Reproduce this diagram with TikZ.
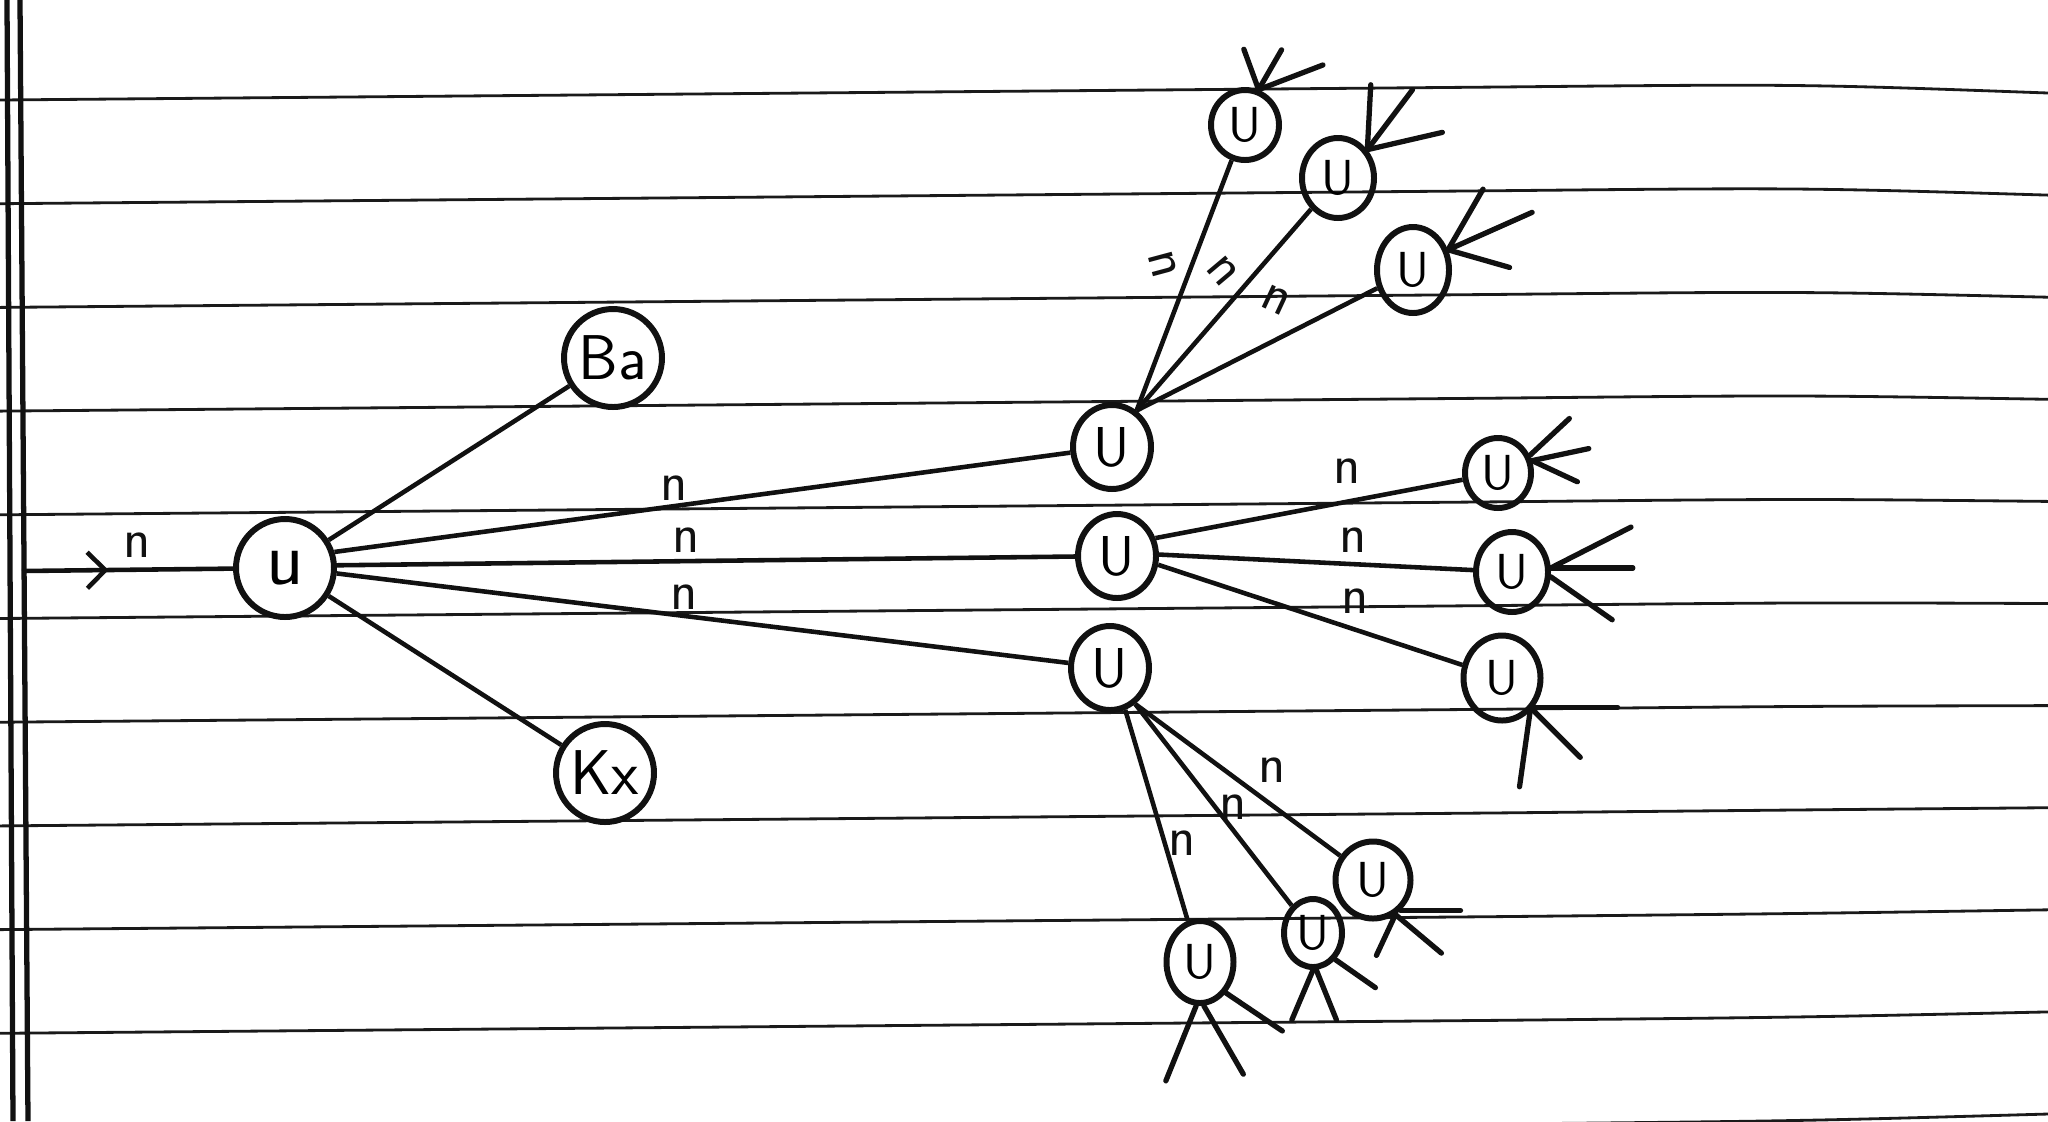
\documentclass[tikz,border=0pt]{standalone}
\usepackage{fontspec}
\usetikzlibrary{positioning,arrows.meta,shapes.geometric,decorations.markings}
\definecolor{ink}{HTML}{111111}
\definecolor{ruling}{HTML}{1A1A1A}
\tikzset{
  unit/.style  ={ellipse, draw=ink, line width=1.7pt, inner sep=0pt,
                 minimum width=7.8mm, minimum height=8.4mm,
                 font=\sffamily\fontsize{16}{16}\selectfont},
  hub/.style   ={unit, minimum width=9.8mm, minimum height=9.8mm,
                 font=\sffamily\fontsize{22}{22}\selectfont},
  side/.style  ={unit, minimum width=9.8mm, minimum height=9.8mm,
                 font=\sffamily\fontsize{18}{18}\selectfont},
  leaf/.style  ={unit, minimum width=7.2mm, minimum height=8mm,
                 font=\sffamily\fontsize{14}{14}\selectfont},
  wire/.style  ={draw=ink, line width=1.3pt},
  stub/.style  ={draw=ink, line width=1.5pt, line cap=round},
  elbl/.style  ={font=\sffamily\fontsize{16}{16}\selectfont, text=ink, inner sep=0pt},
  rule/.style  ={draw=ruling, line width=0.8pt},
  margin/.style={draw=ink, line width=1.5pt},
  feed/.style  ={wire, postaction={decorate}, decoration={markings,
                 mark=at position #1 with {\arrow{Straight Barb[length=1.8mm,width=3.6mm]}}}},
}
\newcommand{\tails}[2]{%
  \foreach \stA/\stD/\stL in {#2}{\draw[stub] (#1.\stA) -- ++(\stD:\stL mm);}}

\begin{document}
\begin{tikzpicture}[x=0.1mm,y=-0.1mm]
  \useasboundingbox (0,0) rectangle (2048,1121);
  % ruled paper
  \foreach \i in {0,...,10}{
    \pgfmathsetmacro\ruleY{100+103.7*\i}
    \pgfmathsetmacro\ruleD{9-1.6*\i}
    \draw[rule] (0,\ruleY) -- (1500,\ruleY-13) .. controls (1800,\ruleY-16) .. (2048,\ruleY-16+\ruleD);}
  \draw[margin] (7,0) -- (13,1121);
  \draw[margin] (20,0) -- (28,1121);

  % first level
  \coordinate (src) at (22,571);
  \node[hub]  (u)  at (285,568) {u};
  \node[side] (ba) at (613,358) {Ba};
  \node[side] (kx) at (605,773) {Kx};
  \node[unit] (m1) at (1112,447) {U};
  \node[unit] (m2) at (1117,556) {U};
  \node[unit] (m3) at (1110,668) {U};

  % second level
  \node[leaf, minimum width=6.8mm, minimum height=7mm] (t1) at (1245,125) {U};
  \node[leaf] (t2) at (1338,178) {U};
  \node[leaf, minimum height=8.6mm] (t3) at (1413,270) {U};
  \node[leaf, minimum width=6.6mm, minimum height=7mm] (r1) at (1498,473) {U};
  \node[leaf] (r2) at (1512,572) {U};
  \node[leaf, minimum width=7.7mm, minimum height=8.5mm] (r3) at (1502,678) {U};
  \node[leaf, minimum width=6.7mm, minimum height=8.2mm] (b1) at (1200,962) {U};
  \node[leaf, minimum width=5.8mm, minimum height=6.8mm] (b2) at (1313,933) {U};
  \node[leaf, minimum width=7.5mm, minimum height=7.7mm] (b3) at (1373,880) {U};

  % connectors
  \draw[feed=0.41] (src) -- (u);
  \draw[wire] (u) -- (ba);
  \draw[wire] (u) -- (kx);
  \draw[wire] (u.18) -- (m1);
  \draw[wire] (u.3) -- (m2);
  \draw[wire] (u.-6) -- (m3);
  \foreach \t in {t1,t2,t3} \draw[wire] (m1.56) -- (\t);
  \foreach \r/\a in {r1/25,r2/2,r3/-12} \draw[wire] (m2.\a) -- (\r);
  \draw[wire] (m3.-70) -- (b1);
  \foreach \b in {b2,b3} \draw[wire] (m3.-55) -- (\b);

  % loose ends
  \tails{t1}{69/110/4.3, 69/60/4.6, 69/21/6.9}
  \tails{t2}{44/87/6.5, 44/53/7.5, 44/13/7.7}
  \tails{t3}{30/60/7.0, 30/24/9.2, 30/-16/6.4}
  \tails{r1}{29/43/5.4, 20/12/5.8, 20/-25/5.0}
  \tails{r2}{6/27/9.0, 6/0/8.2, -7/-35/7.5}
  \tails{r3}{-43/0/8.4, -50/-98/7.6, -46/-45/6.8}
  \tails{b1}{-95/-112/8.1, -85/-60/7.9, -50/-34/6.8}
  \tails{b2}{-90/-113/5.4, -85/-68/5.4, -50/-35/4.9}
  \tails{b3}{-48/0/6.0, -57/-115/4.5, -57/-40/6.0}

  % labels
  \node[elbl] (n0) at (137,545) {n};
  \node[elbl] (na) at (674,488) {n};
  \node[elbl] (nb) at (686,540) {n};
  \node[elbl] (nc) at (684,597) {n};
  \node[elbl, rotate=-75] (nt1) at (1163,264) {n};
  \node[elbl, rotate=-50] (nt2) at (1223,271) {n};
  \node[elbl, rotate=-25] (nt3) at (1276,300) {n};
  \node[elbl] (nr1) at (1347,471) {n};
  \node[elbl] (nr2) at (1353,540) {n};
  \node[elbl] (nr3) at (1355,601) {n};
  \node[elbl] (nb1) at (1182,843) {n};
  \node[elbl] (nb2) at (1233,807) {n};
  \node[elbl] (nb3) at (1272,770) {n};
\end{tikzpicture}
\end{document}
